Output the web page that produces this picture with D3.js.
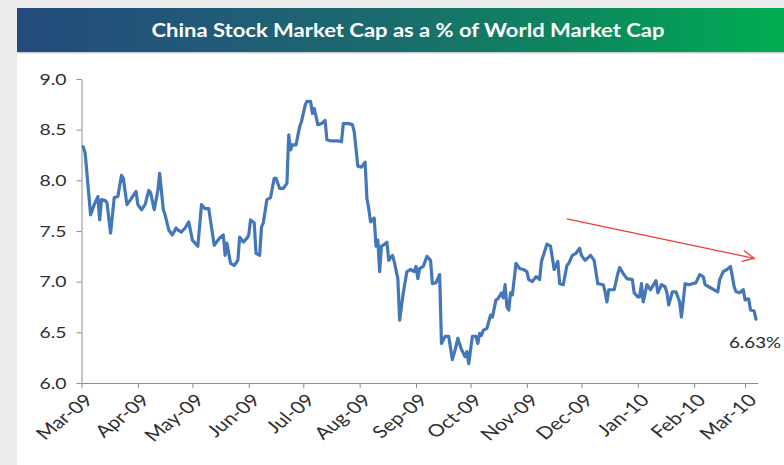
<!DOCTYPE html>
<html>
<head>
<meta charset="utf-8">
<script src="https://cdn.jsdelivr.net/npm/d3@7"></script>
<style>
  html, body { margin: 0; padding: 0; background: #ececec; }
  svg { display: block; font-family: Lato, "Open Sans", "Liberation Sans", sans-serif; }
</style>
</head>
<body>
<svg id="chart" width="784" height="465"></svg>
<script>
// China stock market cap as a share of world market cap (%), Mar 2009 - Mar 2010
const dates = [
  "2009-03-02","2009-03-03","2009-03-06","2009-03-08","2009-03-10","2009-03-11","2009-03-12","2009-03-14","2009-03-15","2009-03-17",
  "2009-03-19","2009-03-21","2009-03-23","2009-03-24","2009-03-26","2009-03-28","2009-03-31",
  "2009-04-01","2009-04-03","2009-04-05","2009-04-07","2009-04-08","2009-04-10","2009-04-12","2009-04-13","2009-04-15","2009-04-16",
  "2009-04-18","2009-04-20","2009-04-22","2009-04-23","2009-04-25","2009-04-27","2009-04-29",
  "2009-05-01","2009-05-04","2009-05-06","2009-05-08","2009-05-10","2009-05-13","2009-05-16","2009-05-18","2009-05-19","2009-05-20",
  "2009-05-22","2009-05-24","2009-05-26","2009-05-27","2009-05-29","2009-05-31",
  "2009-06-01","2009-06-02","2009-06-04","2009-06-05","2009-06-07","2009-06-08","2009-06-09","2009-06-11","2009-06-13","2009-06-15",
  "2009-06-16","2009-06-18","2009-06-20","2009-06-22","2009-06-23","2009-06-24","2009-06-25","2009-06-27","2009-06-29","2009-06-30",
  "2009-07-02","2009-07-03","2009-07-05","2009-07-06","2009-07-07","2009-07-08","2009-07-09","2009-07-11","2009-07-13","2009-07-14",
  "2009-07-16","2009-07-18","2009-07-20","2009-07-22","2009-07-23","2009-07-26","2009-07-28","2009-07-29","2009-07-31",
  "2009-08-02","2009-08-04","2009-08-05","2009-08-06","2009-08-07","2009-08-09","2009-08-10","2009-08-11","2009-08-12","2009-08-13",
  "2009-08-14","2009-08-16","2009-08-17","2009-08-19","2009-08-20","2009-08-22","2009-08-23","2009-08-25","2009-08-27","2009-08-29","2009-08-31",
  "2009-09-01","2009-09-02","2009-09-03","2009-09-05","2009-09-07","2009-09-09","2009-09-10","2009-09-12","2009-09-14","2009-09-15",
  "2009-09-17","2009-09-19","2009-09-21","2009-09-23","2009-09-24","2009-09-26","2009-09-28","2009-09-29","2009-09-30",
  "2009-10-02","2009-10-04","2009-10-05","2009-10-06","2009-10-07","2009-10-08","2009-10-10","2009-10-12","2009-10-13","2009-10-15",
  "2009-10-16","2009-10-18","2009-10-19","2009-10-20","2009-10-21","2009-10-22","2009-10-23","2009-10-24","2009-10-26","2009-10-28","2009-10-30",
  "2009-11-01","2009-11-02","2009-11-04","2009-11-06","2009-11-08","2009-11-09","2009-11-12","2009-11-14","2009-11-16","2009-11-18",
  "2009-11-19","2009-11-21","2009-11-23","2009-11-24","2009-11-26","2009-11-28","2009-11-30",
  "2009-12-01","2009-12-03","2009-12-06","2009-12-08","2009-12-10","2009-12-13","2009-12-14","2009-12-15","2009-12-16","2009-12-19",
  "2009-12-21","2009-12-22","2009-12-24","2009-12-26","2009-12-29","2009-12-30",
  "2010-01-01","2010-01-02","2010-01-03","2010-01-04","2010-01-06","2010-01-08","2010-01-10","2010-01-11","2010-01-12","2010-01-14",
  "2010-01-16","2010-01-17","2010-01-18","2010-01-20","2010-01-22","2010-01-24","2010-01-25","2010-01-27","2010-01-29","2010-01-31",
  "2010-02-02","2010-02-04","2010-02-06","2010-02-07","2010-02-09","2010-02-12","2010-02-14","2010-02-15","2010-02-17","2010-02-19",
  "2010-02-21","2010-02-22","2010-02-23","2010-02-24","2010-02-26","2010-02-28",
  "2010-03-01","2010-03-03","2010-03-04","2010-03-06","2010-03-07"
];

const values = [
  8.33, 8.27, 7.66, 7.76, 7.84, 7.61, 7.81, 7.80, 7.78, 7.48,
  7.83, 7.84, 8.05, 8.02, 7.76, 7.81, 7.89,
  7.76, 7.71, 7.76, 7.90, 7.88, 7.71, 7.90, 8.07, 7.71, 7.66,
  7.51, 7.46, 7.53, 7.51, 7.49, 7.53, 7.59,
  7.41, 7.35, 7.76, 7.72, 7.72, 7.36, 7.43, 7.46, 7.26, 7.38,
  7.18, 7.16, 7.21, 7.44, 7.39, 7.43,
  7.46, 7.61, 7.58, 7.28, 7.26, 7.54, 7.58, 7.81, 7.83, 8.02,
  8.02, 7.92, 7.92, 7.97, 8.45, 8.30, 8.35, 8.35, 8.53, 8.58,
  8.74, 8.78, 8.78, 8.66, 8.71, 8.63, 8.55, 8.56, 8.59, 8.40,
  8.39, 8.39, 8.39, 8.38, 8.56, 8.56, 8.55, 8.48, 8.14,
  8.13, 8.18, 7.82, 7.72, 7.59, 7.63, 7.35, 7.41, 7.10, 7.35,
  7.36, 7.39, 7.21, 7.26, 7.20, 7.03, 6.62, 6.89, 7.10, 7.12, 7.10,
  7.15, 7.03, 7.13, 7.15, 7.25, 7.21, 6.98, 6.99, 7.07, 6.39,
  6.46, 6.46, 6.23, 6.36, 6.44, 6.33, 6.26, 6.31, 6.19,
  6.46, 6.46, 6.39, 6.49, 6.47, 6.52, 6.54, 6.67, 6.65, 6.82,
  6.83, 6.89, 6.84, 6.97, 6.75, 6.72, 6.89, 6.87, 7.18, 7.13, 7.12,
  7.10, 7.02, 7.00, 7.05, 7.02, 7.20, 7.37, 7.35, 7.12, 7.20,
  6.98, 6.97, 7.16, 7.18, 7.26, 7.28, 7.33,
  7.26, 7.21, 7.26, 7.21, 6.98, 6.97, 6.90, 6.80, 6.92, 6.92,
  7.08, 7.14, 7.08, 7.03, 7.02, 6.89,
  6.85, 6.85, 6.98, 6.80, 6.97, 6.92, 6.98, 7.01, 6.89, 6.97,
  6.95, 6.89, 6.77, 6.90, 6.90, 6.80, 6.65, 6.98, 6.97, 6.98,
  6.99, 7.07, 7.05, 6.97, 6.95, 6.92, 6.90, 7.02, 7.10, 7.12,
  7.15, 7.05, 6.95, 6.90, 6.89, 6.92,
  6.82, 6.83, 6.72, 6.71, 6.63
];

const yTickValues = [6.0, 6.5, 7.0, 7.5, 8.0, 8.5, 9.0];
const monthTicks = ["2009-03-01","2009-04-01","2009-05-01","2009-06-01","2009-07-01","2009-08-01","2009-09-01",
                    "2009-10-01","2009-11-01","2009-12-01","2010-01-01","2010-02-01","2010-03-01"];
const dateDomain = ["2009-03-01", "2010-03-08"];

// Trend annotation (start and end of the red arrow)
const trendDates = ["2009-11-23", "2010-03-06"];
const trendValues = [7.62, 7.23];

const titleText = "China Stock Market Cap as a % of World Market Cap";
const lastLabel = "6.63%";

const parse = d3.utcParse("%Y-%m-%d");
const series = dates.map((d, i) => ({ date: parse(d), value: values[i] }));

const svg = d3.select("#chart");
const SX = 1.25; // horizontal stretch applied to all lettering

// backdrop: light grey frame with white panel
svg.append("rect").attr("width", 784).attr("height", 465).attr("fill", "#ececec");
svg.append("rect").attr("x", 17).attr("y", 8).attr("width", 767).attr("height", 457).attr("fill", "#ffffff");

// title banner
const defs = svg.append("defs");
const grad = defs.append("linearGradient").attr("id", "titleGrad")
  .attr("x1", "0%").attr("x2", "100%").attr("y1", "0%").attr("y2", "0%");
grad.append("stop").attr("offset", "0%").attr("stop-color", "#234a7b");
grad.append("stop").attr("offset", "25%").attr("stop-color", "#215a78");
grad.append("stop").attr("offset", "50%").attr("stop-color", "#1a6d6c");
grad.append("stop").attr("offset", "75%").attr("stop-color", "#0b8a5c");
grad.append("stop").attr("offset", "100%").attr("stop-color", "#00ad52");

svg.append("rect").attr("x", 17).attr("y", 51).attr("width", 767).attr("height", 2.5)
  .attr("fill", "#c9cfd3");
svg.append("rect").attr("x", 17).attr("y", 8).attr("width", 767).attr("height", 44)
  .attr("fill", "url(#titleGrad)");
svg.append("text")
  .attr("x", 408).attr("y", 37)
  .attr("text-anchor", "middle")
  .attr("fill", "#ffffff")
  .attr("font-size", 19)
  .attr("font-weight", 700)
  .attr("textLength", 513)
  .attr("lengthAdjust", "spacingAndGlyphs")
  .text(titleText);

// scales
const x = d3.scaleUtc().domain(dateDomain.map(parse)).range([81.5, 757.8]);
const y = d3.scaleLinear().domain([6, 9]).range([383, 79]);

const axisColor = "#8c8c8c";
const labelColor = "#2e2e2e";

// y axis
const gy = svg.append("g").attr("transform", `translate(${x.range()[0]},0)`)
  .call(d3.axisLeft(y).tickValues(yTickValues).tickSize(5).tickSizeOuter(0)
    .tickFormat(d3.format(".1f")));
gy.attr("font-family", null);
gy.select(".domain").attr("stroke", axisColor);
gy.selectAll(".tick line").attr("stroke", axisColor);
gy.selectAll(".tick text")
  .attr("x", 0).attr("dy", "0.34em")
  .attr("transform", `translate(-15,0) scale(${SX},1)`)
  .attr("font-size", 15.5)
  .attr("fill", labelColor);

// x axis
const gx = svg.append("g").attr("transform", `translate(0,${y.range()[0]})`)
  .call(d3.axisBottom(x).tickValues(monthTicks.map(parse)).tickSize(5).tickSizeOuter(0)
    .tickFormat(d3.utcFormat("%b-%y")));
gx.attr("font-family", null);
gx.select(".domain").attr("stroke", axisColor);
gx.selectAll(".tick line").attr("stroke", axisColor);
gx.selectAll(".tick text")
  .attr("x", 0).attr("y", 0).attr("dy", "0.35em")
  .attr("text-anchor", "end")
  .attr("transform", `translate(7,14) scale(${SX},1) rotate(-45)`)
  .attr("font-size", 17)
  .attr("fill", labelColor);

// data line
const line = d3.line().x(d => x(d.date)).y(d => y(d.value));
svg.append("path")
  .datum(series)
  .attr("fill", "none")
  .attr("stroke", "#4477ba")
  .attr("stroke-width", 3.2)
  .attr("stroke-linejoin", "round")
  .attr("stroke-linecap", "round")
  .attr("d", line);

// trend arrow
const ax0 = x(parse(trendDates[0])), ay0 = y(trendValues[0]);
const ax1 = x(parse(trendDates[1])), ay1 = y(trendValues[1]);
const ang = Math.atan2(ay1 - ay0, ax1 - ax0);
const headLen = 13, headAng = 0.45;
const arm = s => [ax1 - headLen * Math.cos(ang + s * headAng), ay1 - headLen * Math.sin(ang + s * headAng)];
const [hx1, hy1] = arm(1), [hx2, hy2] = arm(-1);
svg.append("path")
  .attr("d", `M${ax0},${ay0}L${ax1},${ay1}M${hx1},${hy1}L${ax1},${ay1}L${hx2},${hy2}`)
  .attr("fill", "none")
  .attr("stroke", "#f23c3c")
  .attr("stroke-width", 1.3);

// last value label
const last = series[series.length - 1];
svg.append("text")
  .attr("x", 0).attr("y", 0)
  .attr("transform", `translate(${x(last.date) - 27},${y(last.value) + 29}) scale(${SX},1)`)
  .attr("font-size", 15)
  .attr("fill", "#222222")
  .text(lastLabel);
</script>
</body>
</html>
